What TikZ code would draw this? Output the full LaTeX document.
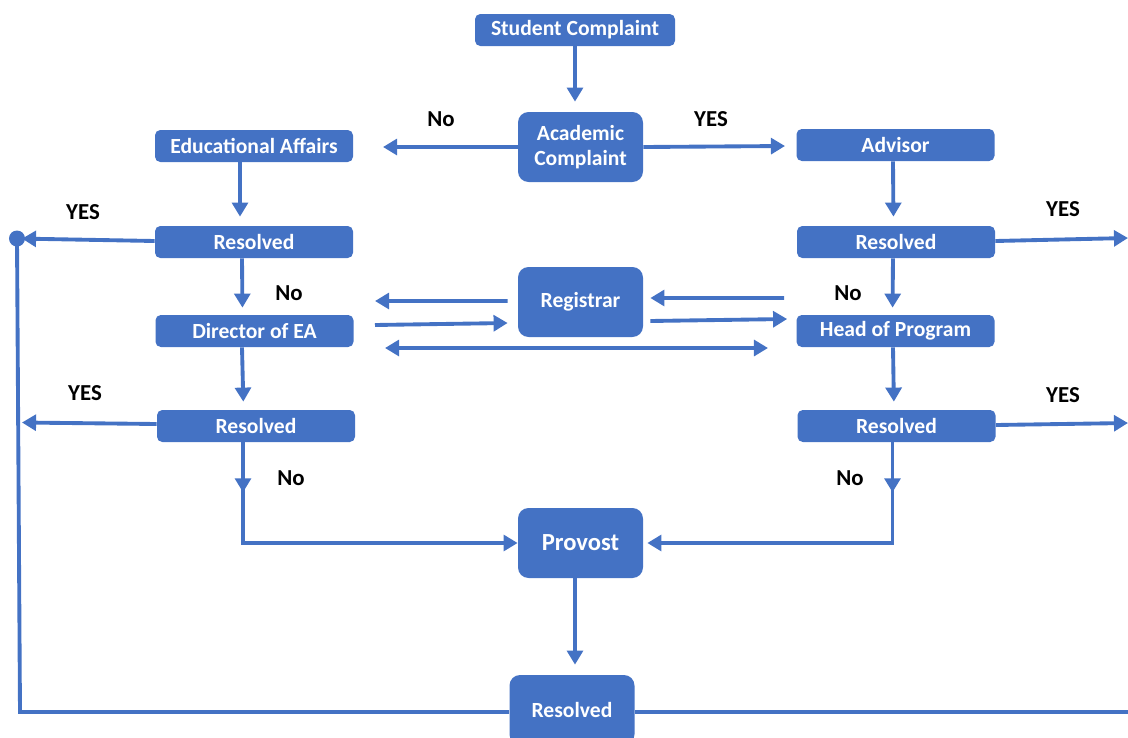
\documentclass[tikz,border=0pt]{standalone}
\usepackage{fontspec}
\setmainfont{Carlito}
\usetikzlibrary{arrows.meta, calc}

\definecolor{flowblue}{HTML}{4472C4}

\begin{document}
\begin{tikzpicture}[
    wide/.style={rectangle,rounded corners=3pt,fill=flowblue,text=white,font=\bfseries\fontsize{12.3}{14}\selectfont,minimum width=3.96cm,minimum height=0.64cm,inner sep=1pt},
    big/.style={wide,rounded corners=6pt,minimum width=2.5cm,minimum height=1.4cm,align=center},
    flow/.style={flowblue,line width=2.2pt,-{Triangle[width=9pt,length=8pt]}},
    both/.style={flow,{Triangle[width=9pt,length=8pt]}-{Triangle[width=9pt,length=8pt]}},
    plain/.style={flowblue,line width=2.2pt},
    answer/.style={font=\bfseries\fontsize{13}{15}\selectfont}]

    \clip (0,0) rectangle (22.56,-14.74);
    \useasboundingbox (0,0) rectangle (22.56,-14.74);

    % boxes
    \node[wide,minimum width=4cm] (student) at (11.5,-0.6) {Student Complaint};
    \node[big] (academic) at (11.61,-2.94) {Academic\\Complaint};
    \node[wide] (edu) at (5.08,-2.92) {Educational Affairs};
    \node[wide] (advisor) at (17.91,-2.9) {Advisor};
    \node[wide] (resA) at (5.08,-4.84) {Resolved};
    \node[wide] (resB) at (17.92,-4.84) {Resolved};
    \node[wide] (director) at (5.09,-6.62) {Director of EA};
    \node[wide] (head) at (17.91,-6.62) {Head of Program};
    \node[big] (registrar) at (11.61,-6.04) {Registrar};
    \node[wide] (resC) at (5.12,-8.52) {Resolved};
    \node[wide] (resD) at (17.93,-8.52) {Resolved};
    \node[big,font=\bfseries\fontsize{14}{16}\selectfont] (provost) at (11.61,-10.86) {Provost};
    \node[big] (final) at (11.44,-14.2) {Resolved};

    \coordinate (dot) at (0.34,-4.77);
    \coordinate (leftC) at (0.44,-8.45);
    \coordinate (rightB) at (22.56,-4.76);
    \coordinate (rightD) at (22.56,-8.46);

    % top
    \draw[flow,shorten >=0.2cm] (student.south) -- (student.south |- academic.north);
    \draw[flow] (academic.west) -- (7.66,-2.94);
    \draw[flow] (academic.east) -- (15.7,-2.92);
    \node[answer] (noA) at (8.82,-2.38) {No};
    \node[answer] (yesA) at (14.22,-2.38) {YES};

    % left column
    \draw[flow,shorten >=0.18cm] ([xshift=-0.28cm]edu.south) -- ([xshift=-0.28cm]resA.north);
    \draw[flow,shorten >=0.14cm] ([xshift=-0.24cm]resA.south) -- ([xshift=-0.24cm]director.north);
    \draw[flow,shorten >=0.16cm] ([xshift=-0.25cm]director.south) -- ([xshift=-0.25cm]resC.north);
    \draw[flow,shorten >=0.1cm] ([yshift=0.02cm]resA.west) -- (dot);
    \fill[flowblue] (dot) circle (0.16);
    \draw[flow] ([yshift=0.04cm]resC.west) -- (leftC);
    \node[answer] (yesB) at (1.66,-4.24) {YES};
    \node[answer] (yesC) at (1.7,-7.86) {YES};
    \node[answer] (noB) at (5.78,-5.86) {No};
    \node[answer] (noC) at (5.82,-9.56) {No};
    \draw[flow] ([xshift=-0.26cm]resC.south) -- ++(0,-1.0);
    \draw[flow] ([xshift=-0.26cm,yshift=-0.9cm]resC.south) |- (provost.west);

    % right column
    \draw[flow,shorten >=0.18cm] ([xshift=-0.05cm]advisor.south) -- ([xshift=-0.05cm]resB.north);
    \draw[flow,shorten >=0.14cm] ([xshift=-0.06cm]resB.south) -- ([xshift=-0.06cm]head.north);
    \draw[flow,shorten >=0.16cm] ([xshift=-0.05cm]head.south) -- ([xshift=-0.05cm]resD.north);
    \draw[flow] ([yshift=0.02cm]resB.east) -- (rightB);
    \draw[flow] ([yshift=0.02cm]resD.east) -- (rightD);
    \node[answer] (yesD) at (21.26,-4.18) {YES};
    \node[answer] (yesE) at (21.26,-7.9) {YES};
    \node[answer] (noD) at (16.96,-5.86) {No};
    \node[answer] (noE) at (17.0,-9.56) {No};
    \draw[flow] ([xshift=-0.08cm]resD.south) -- ++(0,-1.0);
    \draw[flow] ([xshift=-0.08cm,yshift=-0.9cm]resD.south) |- ([xshift=0.08cm]provost.east);

    % registrar
    \draw[flow] ([xshift=-0.2cm,yshift=0.02cm]registrar.west) -- (7.5,-6.02);
    \draw[flow] (7.5,-6.5) -- ([xshift=-0.2cm,yshift=-0.42cm]registrar.west);
    \draw[flow] (15.68,-5.96) -- ([xshift=0.14cm,yshift=0.08cm]registrar.east);
    \draw[flow] ([xshift=0.14cm,yshift=-0.38cm]registrar.east) -- ([xshift=-0.18cm,yshift=0.24cm]head.west);
    \draw[both] (7.7,-6.96) -- (15.36,-6.96);

    % bottom
    \draw[flow,shorten >=0.2cm] (provost.south -| 11.5,0) -- (final.north -| 11.5,0);
    \draw[plain] (dot) -- (0.4,-14.24) -- (final.west |- 0,-14.24);
    \draw[plain] (final.east |- 0,-14.24) -- (22.56,-14.24);
\end{tikzpicture}
\end{document}
